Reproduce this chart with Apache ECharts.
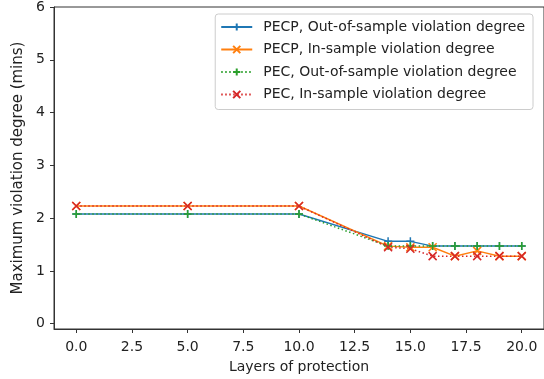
<!DOCTYPE html>
<html><head><meta charset="utf-8">
<script src="https://cdn.jsdelivr.net/npm/echarts@6/dist/echarts.min.js"></script>
<style>html,body{margin:0;padding:0;background:#fff}#c{width:544px;height:379px}</style>
</head><body><div id="c"></div>
<script>
const layers = [0, 5, 10, 14, 15, 16, 17, 18, 19, 20];
const pecpOut = [2.08, 2.08, 2.08, 1.56, 1.56, 1.47, 1.47, 1.47, 1.47, 1.47];
const pecpIn  = [2.23, 2.23, 2.23, 1.47, 1.45, 1.45, 1.28, 1.38, 1.28, 1.28];
const pecOut  = [2.08, 2.08, 2.08, 1.47, 1.47, 1.47, 1.47, 1.47, 1.47, 1.47];
const pecIn   = [2.23, 2.23, 2.23, 1.45, 1.42, 1.28, 1.28, 1.28, 1.28, 1.28];
const xTicks = [0, 2.5, 5, 7.5, 10, 12.5, 15, 17.5, 20];
const yTicks = [0, 1, 2, 3, 4, 5, 6];
const names = ['PECP, Out-of-sample violation degree','PECP, In-sample violation degree','PEC, Out-of-sample violation degree','PEC, In-sample violation degree'];
const colors = ['#1f77b4','#ff7f0e','#2ca02c','#d62728'];

const PLUS = 'path://M0,5L10,5M5,0L5,10';
const CROSS = 'path://M0,0L10,10M0,10L10,0';
const font = 'DejaVu Sans';

function mk(i, data, sym, dotted){
  return {
    name: names[i], type: 'line',
    data: layers.map((x, k) => [x, data[k]]),
    symbol: sym, symbolSize: 8, showSymbol: true,
    lineStyle: {color: colors[i], width: 1.5, type: dotted ? [1.5, 2.5] : 'solid'},
    itemStyle: {color: 'none', borderColor: colors[i], borderWidth: 1.5},
    emphasis: {disabled: true}, animation: false
  };
}

const chart = echarts.init(document.getElementById('c'), null, {renderer: 'canvas'});
chart.setOption({
  animation: false,
  textStyle: {fontFamily: font},
  grid: {left: 54, right: 0, top: 7, bottom: 47, show: true, borderColor: '#333', borderWidth: 1},
  legend: {
    orient: 'vertical', right: 11, top: 14,
    itemWidth: 31, itemHeight: 9, itemGap: 6.5,
    padding: [5, 8, 7, 5],
    borderColor: '#ccc', borderWidth: 1, borderRadius: 3,
    backgroundColor: 'rgba(255,255,255,0.8)',
    textStyle: {fontFamily: font, fontSize: 14, color: '#222', padding: [0,0,0,6], lineHeight: 16},
    data: names
  },
  xAxis: {
    type: 'value', min: -1, max: 21,
    name: 'Layers of protection', nameLocation: 'middle', nameGap: 31,
    nameTextStyle: {fontFamily: font, fontSize: 14, color: '#222'},
    axisLine: {show: true, onZero: false, lineStyle: {color: '#333'}},
    axisTick: {show: true, length: 4, customValues: xTicks, lineStyle: {color: '#333'}},
    axisLabel: {customValues: xTicks, margin: 11, fontSize: 14, color: '#222', fontFamily: font, formatter: v => v.toFixed(1)},
    splitLine: {show: false}
  },
  yAxis: {
    type: 'value', min: -0.1, max: 6,
    name: 'Maximum violation degree (mins)', nameLocation: 'middle', nameGap: 25,
    nameTextStyle: {fontFamily: font, fontSize: 15, color: '#222'},
    axisLine: {show: true, onZero: false, lineStyle: {color: '#333'}},
    axisTick: {show: true, length: 4, customValues: yTicks, lineStyle: {color: '#333'}},
    axisLabel: {customValues: yTicks, margin: 9, fontSize: 14, color: '#222', fontFamily: font},
    splitLine: {show: false}
  },
  series: [
    mk(0, pecpOut, PLUS, false),
    mk(1, pecpIn, CROSS, false),
    mk(2, pecOut, PLUS, true),
    mk(3, pecIn, CROSS, true)
  ]
});
</script></body></html>
